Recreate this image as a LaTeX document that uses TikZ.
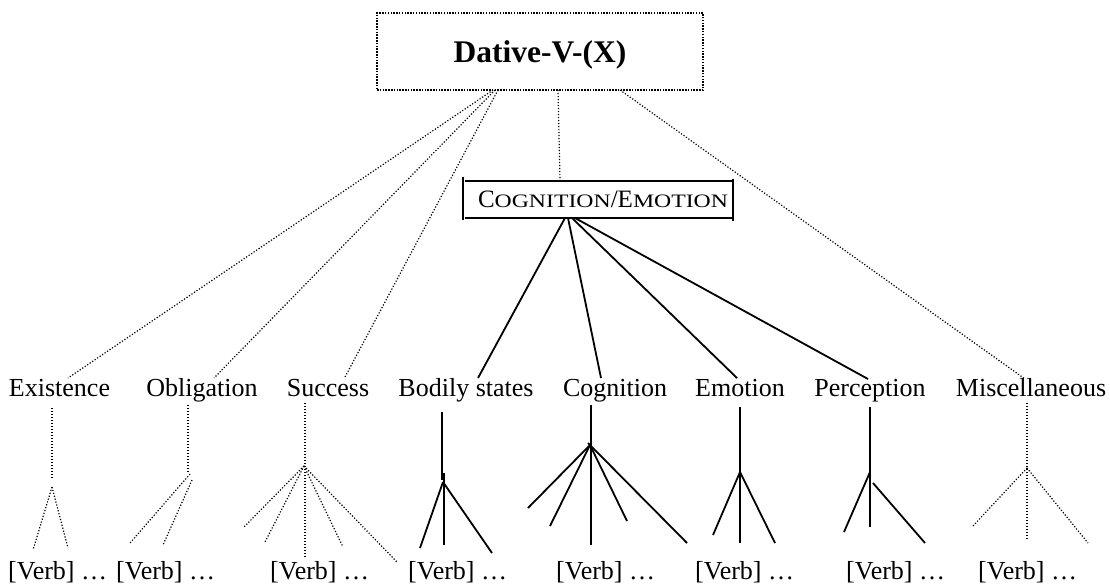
\documentclass[tikz,border=0pt]{standalone}
\usepackage{fontspec}
\setmainfont{Liberation Serif}
\begin{document}
\begin{tikzpicture}[x=1pt,y=-1pt,
  lab/.style={font=\fontsize{26}{30}\selectfont, inner sep=0pt, anchor=base},
  verb/.style={font=\fontsize{26}{30}\selectfont, inner sep=0pt, anchor=base west},
  dotl/.style={line width=1.2pt, dash pattern=on 1.2pt off 1.8pt},
  soll/.style={line width=1.8pt},
  rootbox/.style={draw, line width=2.2pt, dash pattern=on 1.5pt off 1.3pt, minimum width=326pt, minimum height=77pt, inner sep=0pt},
  cebar/.style={line width=1.4pt}
]
\useasboundingbox (0,0) rectangle (1110,584);

% root
\node[rootbox] (root) at (540,51.5) {};
\node[font=\bfseries\fontsize{31.5}{36}\selectfont, anchor=base, inner sep=0pt] (roottext) at (540,62) {Dative-V-(X)};

% Cognition/Emotion box
\node[lab] (ce) at (603,207) {\fontsize{25}{30}\selectfont C\scalebox{1.25}[1]{\fontsize{19}{20}\selectfont OGNITION}/E\scalebox{1.25}[1]{\fontsize{19}{20}\selectfont MOTION}};
\draw[cebar] (465,181) -- (733,181);
\draw[cebar] (465,218) -- (733,218);
\draw[line width=1.9pt] (463,177) -- (463,220);
\draw[line width=1.6pt] (733,179) -- (733,221);

% labels
\node[lab] (exist) at (59.5,396) {Existence};
\node[lab] (oblig) at (202,396) {Obligation};
\node[lab] (succ) at (328,396) {Success};
\node[lab] (bodily) at (466,396) {Bodily states};
\node[lab] (cogn) at (615,396) {Cognition};
\node[lab] (emot) at (740,396) {Emotion};
\node[lab] (perc) at (870,396) {Perception};
\node[lab] (misc) at (1031,396) {Miscellaneous};

% verbs
\node[verb] (v1) at (8,579) {[Verb] …};
\node[verb] (v2) at (116,579) {[Verb] …};
\node[verb] (v3) at (270,579) {[Verb] …};
\node[verb] (v4) at (408,579) {[Verb] …};
\node[verb] (v5) at (556,579) {[Verb] …};
\node[verb] (v6) at (695,579) {[Verb] …};
\node[verb] (v7) at (846,579) {[Verb] …};
\node[verb] (v8) at (978,579) {[Verb] …};

% root connectors
\coordinate (r1) at (493,90);
\coordinate (r2) at (495,90);
\coordinate (r3) at (498,90);
\coordinate (r4) at (558,90);
\coordinate (r5) at (620,90);
\coordinate (existT) at (68,378);
\coordinate (obligT) at (214,378);
\coordinate (succT) at (345,377);
\coordinate (ceT) at (560,181);
\coordinate (miscT) at (1025,379);
\draw[dotl] (r1) -- (existT);
\draw[dotl] (r2) -- (obligT);
\draw[dotl] (r3) -- (succT);
\draw[dotl] (r4) -- (ceT);
\draw[dotl] (r5) -- (miscT);

% cognition/emotion connectors
\coordinate (c1) at (565,218);
\coordinate (c2) at (568,218);
\coordinate (c3) at (572,218);
\coordinate (c4) at (575,218);
\coordinate (bodT) at (478,378);
\coordinate (cogT) at (601,378);
\coordinate (emoT) at (737,378);
\coordinate (perT) at (868,379);
\draw[soll] (c1) -- (bodT);
\draw[soll] (c2) -- (cogT);
\draw[soll] (c3) -- (emoT);
\draw[soll] (c4) -- (perT);

% Existence subtree
\draw[dotl] (52,408) -- (52,478);
\draw[dotl] (52,487) -- (33,550);
\draw[dotl] (52,487) -- (68,548);
% Obligation subtree
\draw[dotl] (188,405) -- (188,473);
\draw[dotl] (190,474) -- (130,543);
\draw[dotl] (192,480) -- (163,545);
% Success subtree
\draw[dotl] (305,403) -- (305,557);
\draw[dotl] (304,466) -- (243,528);
\draw[dotl] (304,466) -- (265,542);
\draw[dotl] (304,466) -- (343,547);
\draw[dotl] (304,466) -- (397,562);
% Bodily states subtree
\draw[soll] (442,412) -- (442,480);
\draw[soll] (444,473) -- (444,545);
\draw[soll] (443,482) -- (420,548);
\draw[soll] (443,482) -- (492,553);
% Cognition subtree
\draw[soll] (591,405) -- (591,545);
\draw[soll] (590,445) -- (528,508);
\draw[soll] (590,445) -- (550,526);
\draw[soll] (590,445) -- (627,521);
\draw[soll] (588,443) -- (687,543);
% Emotion subtree
\draw[soll] (740,407) -- (740,543);
\draw[soll] (740,472) -- (713,535);
\draw[soll] (740,472) -- (775,543);
% Perception subtree
\draw[soll] (870,407) -- (870,527);
\draw[soll] (870,472) -- (844,532);
\draw[soll] (873,483) -- (925,543);
% Miscellaneous subtree
\draw[dotl] (1027,403) -- (1027,540);
\draw[dotl] (1027,468) -- (972,527);
\draw[dotl] (1027,468) -- (1088,543);
\end{tikzpicture}
\end{document}
